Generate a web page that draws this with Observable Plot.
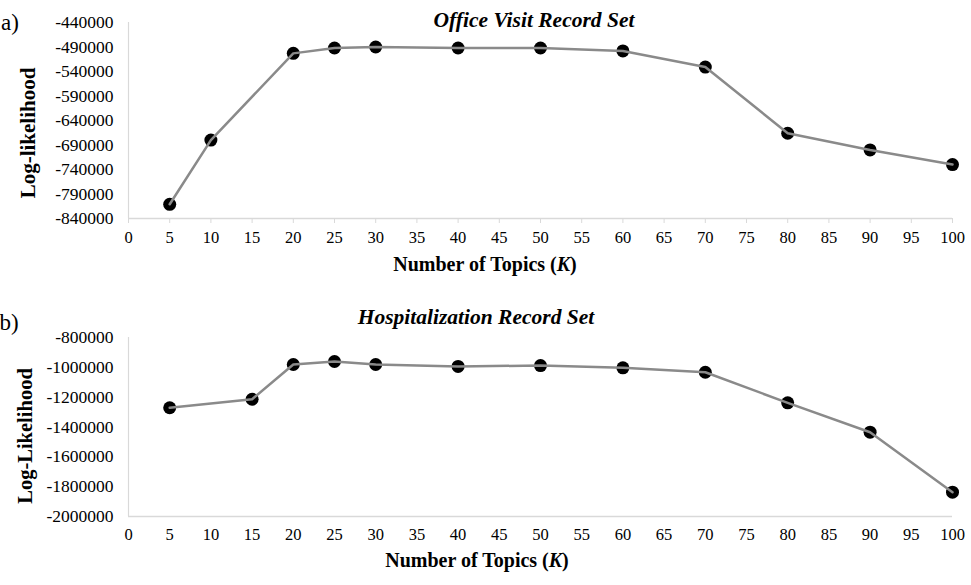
<!DOCTYPE html>
<html>
<head>
<meta charset="utf-8">
<script src="https://cdn.jsdelivr.net/npm/d3@7"></script>
<script src="https://cdn.jsdelivr.net/npm/@observablehq/plot@0.6"></script>
<style>
  html, body { margin: 0; padding: 0; background: white; }
  #chart svg { display: block; }
</style>
</head>
<body>
<div id="chart"></div>
<script>
// Panel a) Office Visit Record Set
const kA = [5, 10, 20, 25, 30, 40, 50, 60, 70, 80, 90, 100];
const llA = [-811000, -680000, -503000, -492000, -490000, -492000, -492000, -498000, -531000, -666000, -700000, -730000];
const yTicksA = [-840000, -790000, -740000, -690000, -640000, -590000, -540000, -490000, -440000];

// Panel b) Hospitalization Record Set
const kB = [5, 15, 20, 25, 30, 40, 50, 60, 70, 80, 90, 100];
const llB = [-1271000, -1214000, -981000, -961000, -981000, -994000, -988000, -1003000, -1033000, -1238000, -1435000, -1837000];
const yTicksB = [-2000000, -1800000, -1600000, -1400000, -1200000, -1000000, -800000];

const xTicks = d3.range(0, 101, 5);

const dataA = kA.map((k, i) => ({k, ll: llA[i]}));
const dataB = kB.map((k, i) => ({k, ll: llB[i]}));

const FONT = "Liberation Serif";
const axisGray = "#d9d9d9";
const lineGray = "#8a8a8a";

function panel(data, yTicks, opts) {
  const yMin = yTicks[0], yMax = yTicks[yTicks.length - 1];
  return Plot.plot({
    width: 971,
    height: opts.height,
    marginLeft: 128,
    marginRight: 19,
    marginTop: opts.marginTop,
    marginBottom: opts.marginBottom,
    style: {fontFamily: FONT, fontSize: "17.5px", color: "black", background: "white"},
    x: {domain: [0, 100]},
    y: {domain: [yMin, yMax]},
    marks: [
      Plot.ruleX([0], {stroke: axisGray, strokeWidth: 1.2}),
      Plot.ruleY([yMin], {stroke: axisGray, strokeWidth: 1.5}),
      Plot.axisY({ticks: yTicks, tickSize: 0, tickPadding: 15, tickFormat: d => String(d), label: null, fontSize: 17.5}),
      Plot.axisX({ticks: xTicks, tickSize: opts.tickSize, tickPadding: opts.tickPadding, stroke: axisGray, fill: "black", tickFormat: d => String(d), label: null, fontSize: 16.5}),
      Plot.dot(data, {x: "k", y: "ll", r: 6.5, fill: "black", stroke: "none"}),
      Plot.line(data, {x: "k", y: "ll", stroke: lineGray, strokeWidth: 2.5})
    ]
  });
}

function annotate(svg, a) {
  const s = d3.select(svg).append("g").attr("font-family", FONT).attr("fill", "black");
  s.append("text").attr("x", a.tagX).attr("y", a.tagY).attr("font-size", 23).text(a.tag);
  s.append("text").attr("x", a.titleX).attr("y", a.titleY).attr("text-anchor", "middle")
    .attr("font-size", a.titleSize).attr("font-weight", "bold").attr("font-style", "italic").text(a.title);
  s.append("text").attr("transform", `translate(${a.yLabX},${a.yLabY}) rotate(-90)`)
    .attr("text-anchor", "middle").attr("dominant-baseline", "central")
    .attr("font-size", a.yLabSize).attr("font-weight", "bold").text(a.yLabel);
  const xt = s.append("text").attr("x", a.xLabX).attr("y", a.xLabY).attr("text-anchor", "middle")
    .attr("font-size", 20).attr("font-weight", "bold");
  xt.append("tspan").text("Number of Topics (");
  xt.append("tspan").attr("font-style", "italic").text("K");
  xt.append("tspan").text(")");
}

const pA = panel(dataA, yTicksA, {height: 290, marginTop: 22, marginBottom: 72, tickSize: 5, tickPadding: 8});
annotate(pA, {tag: "a)", tagX: 10, tagY: 30, title: "Office Visit Record Set", titleX: 534, titleY: 27, titleSize: 21.5,
  yLabel: "Log-likelihood", yLabX: 28, yLabY: 133, yLabSize: 21, xLabX: 485, xLabY: 271});

const pB = panel(dataB, yTicksB, {height: 295, marginTop: 47, marginBottom: 69, tickSize: 0, tickPadding: 12});
annotate(pB, {tag: "b)", tagX: 9, tagY: 40, title: "Hospitalization Record Set", titleX: 476, titleY: 34, titleSize: 21.5,
  yLabel: "Log-Likelihood", yLabX: 25, yLabY: 146, yLabSize: 20.5, xLabX: 477, xLabY: 277});

const chart = document.getElementById("chart");
chart.appendChild(pA);
chart.appendChild(pB);
</script>
</body>
</html>
